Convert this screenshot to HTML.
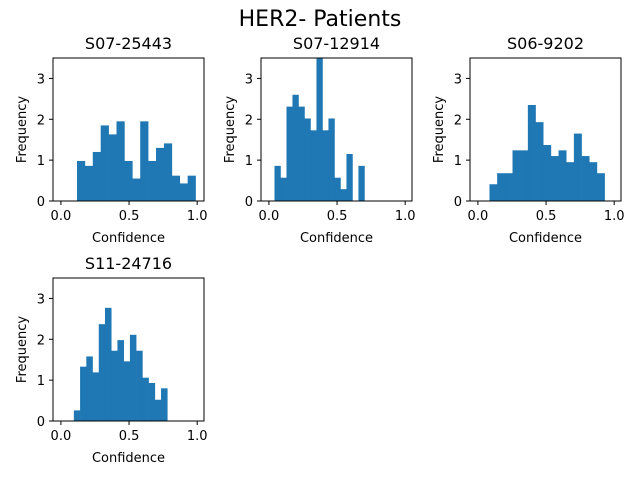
<!DOCTYPE html>
<html><head><meta charset="utf-8"><style>
body{margin:0;background:#fff}
svg text{font-family:"DejaVu Sans","Liberation Sans",sans-serif;fill:#000}
</style></head><body>
<svg id="fig" width="640" height="480" xmlns="http://www.w3.org/2000/svg">
<rect width="640" height="480" fill="#fff"/>
<text x="320" y="26" font-size="22" text-anchor="middle">HER2- Patients</text>
</svg>
<script>
const titles = ["S07-25443","S07-12914","S06-9202","S11-24716"];
const binStarts = [0.118, 0.041, 0.085, 0.095];
const binWidths = [0.058, 0.044, 0.0563, 0.0457];
const counts1 = [0.98,0.86,1.2,1.85,1.63,1.95,0.98,0.55,1.95,0.98,1.3,1.41,0.62,0.43,0.62];
const counts2 = [0.86,0.57,2.31,2.6,2.31,2.02,1.73,3.6,1.73,2.02,0.57,0.29,1.15,0,0.86];
const counts3 = [0.41,0.68,0.68,1.24,1.24,2.35,1.93,1.37,1.1,1.24,0.95,1.65,1.1,0.95,0.68];
const counts4 = [0.26,1.33,1.58,1.19,2.37,2.77,1.72,1.98,1.46,2.11,1.72,1.06,0.93,0.52,0.8];
const xTicks = [0,0.5,1];
const xTickLabels = ["0.0","0.5","1.0"];
const yTicks = [0,1,2,3];
const allCounts = [counts1,counts2,counts3,counts4];
const boxes = [[53,58,151,143],[261,58,151,143],[470,58,151,143],[53,278,151,143]];
const XMIN=-0.058, XMAX=1.05, YMAX=3.5;
const NS="http://www.w3.org/2000/svg";
const fig=document.getElementById('fig');
function mk(tag,attrs,parent){const e=document.createElementNS(NS,tag);for(const k in attrs)e.setAttribute(k,attrs[k]);(parent||fig).appendChild(e);return e;}
allCounts.forEach((counts,i)=>{
  const [L,T,W,H]=boxes[i];
  const sx=v=>L+(v-XMIN)/(XMAX-XMIN)*W;
  const sy=v=>T+H-Math.min(v,YMAX)/YMAX*H;
  const g=mk('g',{});
  
  
  const clip=mk('clipPath',{id:'c'+i},g);mk('rect',{x:L,y:T,width:W,height:H},clip);
  const bars=mk('g',{'clip-path':'url(#c'+i+')'},g);
  counts.forEach((c,j)=>{
    if(c<=0)return;
    const x0=sx(binStarts[i]+j*binWidths[i]), x1=sx(binStarts[i]+(j+1)*binWidths[i]);
    const r=mk('rect',{x:x0,y:sy(c),width:x1-x0+0.3,height:sy(0)-sy(c),fill:'#1f77b4'},bars);
    
    
  });
  const frame=mk('rect',{x:L,y:T,width:W,height:H,fill:'none',stroke:'#000','stroke-width':1},g);
  
  
  xTicks.forEach((t,k)=>{
    const x=sx(t);
    mk('line',{x1:x,x2:x,y1:T+H,y2:T+H+4,stroke:'#000'},g);
    const tx=mk('text',{x:x,y:T+H+19,'font-size':13,'text-anchor':'middle'},g);tx.textContent=xTickLabels[k];
    
    
  });
  yTicks.forEach(t=>{
    const y=sy(t);
    mk('line',{x1:L-4,x2:L,y1:y,y2:y,stroke:'#000'},g);
    const tx=mk('text',{x:L-8,y:y+5,'font-size':13,'text-anchor':'end'},g);tx.textContent=t;
    
    
  });
  const ti=mk('text',{x:L+W/2,y:T-9,'font-size':16,'text-anchor':'middle'},g);ti.textContent=titles[i];
  
  
  const xl=mk('text',{x:L+W/2,y:T+H+41,'font-size':13,'text-anchor':'middle'},g);xl.textContent='Confidence';
  
  
  const cy=T+H/2;
  const yl=mk('text',{x:L-27,y:cy,'font-size':13,'text-anchor':'middle',transform:'rotate(-90 '+(L-27)+' '+cy+')'},g);yl.textContent='Frequency';
  
  
});
</script>
</body></html>
